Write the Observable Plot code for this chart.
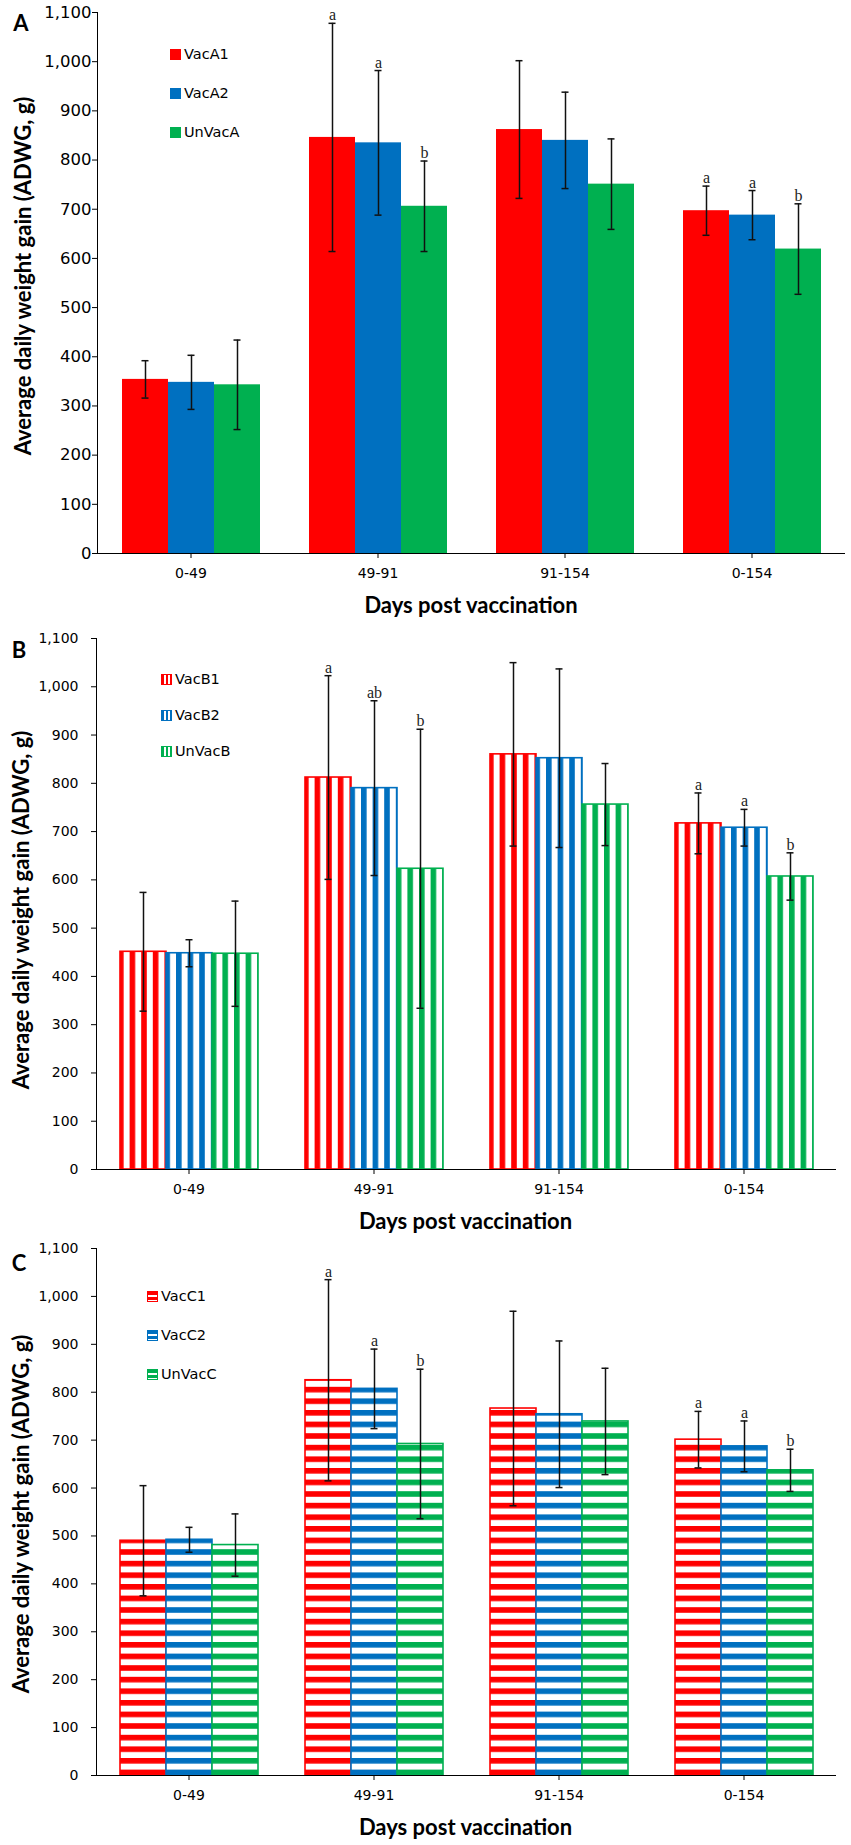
<!DOCTYPE html>
<html>
<head>
<meta charset="utf-8">
<script src="https://cdn.jsdelivr.net/npm/d3@7"></script>
<script src="https://cdn.jsdelivr.net/npm/@observablehq/plot@0.6"></script>
<style>
  html, body { margin: 0; padding: 0; background: #fff; }
  #root { position: relative; width: 851px; height: 1845px; overflow: hidden; }
  .panel { position: absolute; left: 0; width: 851px; }
  .panel svg { position: absolute; left: 0; top: 0; }
  .ov { position: absolute; white-space: nowrap; color: #000; }
  .plet { font: bold 22px Lato, "DejaVu Sans", sans-serif; transform: translate(-50%, -50%); }
  .ytitle { font: bold 22px Lato, "DejaVu Sans", sans-serif; transform: translate(-50%, -50%) rotate(-90deg); }
  .xtitle { font: bold 22px Lato, "DejaVu Sans", sans-serif; transform: translate(-50%, -50%); }
  .leg { font: 14.5px "DejaVu Sans", sans-serif; display: flex; align-items: center; transform: translateY(-50%); }
  .sw { width: 9px; height: 9px; margin-right: 3px; box-sizing: content-box; }
</style>
</head>
<body>
<div id="root"></div>
<script>
// ---------- data ----------
const groups = ["0-49", "49-91", "91-154", "0-154"];
const yTicks = [0, 100, 200, 300, 400, 500, 600, 700, 800, 900, 1000, 1100];

const seriesA = ["VacA1", "VacA2", "UnVacA"];
const meanVacA1 = [354, 846, 862, 697];
const meanVacA2 = [348, 835, 840, 688];
const meanUnVacA = [343, 706, 751, 619];
const sdVacA1 = [38, 232, 140, 50];
const sdVacA2 = [55, 147, 98, 50];
const sdUnVacA = [91, 92, 92, 92];
const letVacA1 = ["", "a", "", "a"];
const letVacA2 = ["", "a", "", "a"];
const letUnVacA = ["", "b", "", "b"];

const seriesB = ["VacB1", "VacB2", "UnVacB"];
const meanVacB1 = [451, 812, 860, 717];
const meanVacB2 = [448, 790, 852, 708];
const meanUnVacB = [447, 623, 756, 607];
const sdVacB1 = [123, 211, 190, 63];
const sdVacB2 = [28, 181, 185, 38];
const sdUnVacB = [109, 289, 85, 49];
const letVacB1 = ["", "a", "", "a"];
const letVacB2 = ["", "ab", "", "a"];
const letUnVacB = ["", "b", "", "b"];

const seriesC = ["VacC1", "VacC2", "UnVacC"];
const meanVacC1 = [490, 825, 766, 701];
const meanVacC2 = [492, 807, 754, 687];
const meanUnVacC = [481, 692, 739, 637];
const sdVacC1 = [115, 210, 203, 59];
const sdVacC2 = [26, 83, 153, 53];
const sdUnVacC = [65, 156, 111, 44];
const letVacC1 = ["", "a", "", "a"];
const letVacC2 = ["", "a", "", "a"];
const letUnVacC = ["", "b", "", "b"];

const palette = ["#FF0000", "#0070C0", "#00B050"];

// ---------- panels ----------
const panels = [
  {key: "A", top: 0, series: seriesA, means: [meanVacA1, meanVacA2, meanUnVacA], sds: [sdVacA1, sdVacA2, sdUnVacA],
   letters: [letVacA1, letVacA2, letUnVacA], pattern: "solid", plotH: 541, ml: 97, mr: 6, tickPad: 1, yFont: 16.5,
   letterPos: [21, 22], ytitle: [22, 276], legend: [170, 54, 39]},
  {key: "B", top: 626, series: seriesB, means: [meanVacB1, meanVacB2, meanUnVacB], sds: [sdVacB1, sdVacB2, sdUnVacB],
   letters: [letVacB1, letVacB2, letUnVacB], pattern: "v", plotH: 531, ml: 94, mr: 14, tickPad: 13, yFont: 14,
   letterPos: [19, 23], ytitle: [20, 284], legend: [161, 53, 36]},
  {key: "C", top: 1236, series: seriesC, means: [meanVacC1, meanVacC2, meanUnVacC], sds: [sdVacC1, sdVacC2, sdUnVacC],
   letters: [letVacC1, letVacC2, letUnVacC], pattern: "h", plotH: 527, ml: 94, mr: 14, tickPad: 13, yFont: 14,
   letterPos: [19, 26], ytitle: [20, 278], legend: [147, 60, 39]}
];

const root = document.getElementById("root");
const marginTop = 12, marginBottom = 40, W = 851;

panels.forEach(p => {
  const rows = [];
  groups.forEach((g, gi) => p.series.forEach((s, si) => rows.push({
    group: g, series: s, value: p.means[si][gi], sd: p.sds[si][gi], letter: p.letters[si][gi]
  })));
  const colorOf = Object.fromEntries(p.series.map((s, i) => [s, palette[i]]));
  const fillOf = Object.fromEntries(p.series.map((s, i) =>
    [s, p.pattern === "solid" ? palette[i] : `url(#pat-${p.key}-${i})`]));
  const H = marginTop + p.plotH + marginBottom;

  const chart = Plot.plot({
    width: W, height: H,
    marginLeft: p.ml, marginRight: p.mr, marginTop, marginBottom,
    style: {fontFamily: "'DejaVu Sans', sans-serif", fontSize: "14px", color: "#000", background: "transparent", overflow: "visible"},
    facet: {data: rows, x: "group"},
    fx: {domain: groups, padding: 0, axis: "bottom", label: null, tickSize: 5, tickPadding: 10},
    x: {domain: p.series, axis: null, paddingInner: 0, paddingOuter: 0.5},
    y: {domain: [0, 1100], ticks: yTicks, tickFormat: d3.format(","), tickSize: 5, tickPadding: p.tickPad, label: null, line: true},
    color: {type: "identity"},
    marks: [
      Plot.barY(rows, {x: "series", y: "value", fill: d => fillOf[d.series],
        stroke: d => colorOf[d.series], strokeWidth: p.pattern === "solid" ? 0 : 1.6}),
      Plot.ruleY([0], {stroke: "#000", strokeWidth: 1.2}),
      Plot.ruleX(rows, {x: "series", y1: d => d.value - d.sd, y2: d => d.value + d.sd, stroke: "#111", strokeWidth: 1.5}),
      Plot.tickY(rows, {x: "series", y: d => d.value - d.sd, insetLeft: 19.5, insetRight: 19.5, stroke: "#111", strokeWidth: 1.5}),
      Plot.tickY(rows, {x: "series", y: d => d.value + d.sd, insetLeft: 19.5, insetRight: 19.5, stroke: "#111", strokeWidth: 1.5}),
      Plot.text(rows, {filter: d => d.letter, x: "series", y: d => d.value + d.sd, text: "letter",
        lineAnchor: "bottom", dy: -3, fontFamily: "'Liberation Serif', serif", fontSize: 16, fill: "#222"})
    ]
  });

  d3.select(chart).selectAll('g[aria-label="y-axis tick label"]').attr("font-size", p.yFont);

  // stripe patterns
  if (p.pattern !== "solid") {
    const defs = d3.select(chart).insert("defs", ":first-child");
    palette.forEach((c, i) => {
      const P = 11.6, S = 5.6;
      const pat = defs.append("pattern").attr("id", `pat-${p.key}-${i}`).attr("patternUnits", "userSpaceOnUse");
      if (p.pattern === "v") {
        pat.attr("width", P).attr("height", 10);
        pat.append("rect").attr("width", P).attr("height", 10).attr("fill", "#fff");
        pat.append("rect").attr("width", S).attr("height", 10).attr("fill", c);
      } else {
        pat.attr("width", 10).attr("height", P);
        pat.append("rect").attr("width", 10).attr("height", P).attr("fill", "#fff");
        pat.append("rect").attr("width", 10).attr("height", S).attr("fill", c);
      }
    });
  }

  const div = document.createElement("div");
  div.className = "panel";
  div.style.top = p.top + "px";
  div.style.height = (H + 30) + "px";
  div.appendChild(chart);

  const add = (cls, text, x, y) => {
    const e = document.createElement("div");
    e.className = "ov " + cls;
    e.textContent = text;
    e.style.left = x + "px"; e.style.top = y + "px";
    div.appendChild(e);
    return e;
  };
  add("plet", p.key, p.letterPos[0], p.letterPos[1]);
  add("ytitle", "Average daily weight gain (ADWG, g)", p.ytitle[0], p.ytitle[1]);
  add("xtitle", "Days post vaccination", p.ml + (W - p.ml - p.mr) / 2, marginTop + p.plotH + 51);

  p.series.forEach((s, i) => {
    const e = document.createElement("div");
    e.className = "ov leg";
    e.style.left = p.legend[0] + "px";
    e.style.top = (p.legend[1] + i * p.legend[2]) + "px";
    const sw = document.createElement("span");
    sw.className = "sw";
    const c = palette[i];
    if (p.pattern === "solid") {
      sw.style.background = c; sw.style.border = `1px solid ${c}`;
    } else if (p.pattern === "v") {
      sw.style.border = `1px solid ${c}`;
      sw.style.background = `repeating-linear-gradient(90deg, ${c} 0 2px, #fff 2px 4px)`;
    } else {
      sw.style.border = `1px solid ${c}`;
      sw.style.background = `repeating-linear-gradient(180deg, ${c} 0 3px, #fff 3px 5px)`;
    }
    const t = document.createElement("span");
    t.textContent = s;
    e.appendChild(sw); e.appendChild(t);
    div.appendChild(e);
  });

  root.appendChild(div);
});
</script>
</body>
</html>
